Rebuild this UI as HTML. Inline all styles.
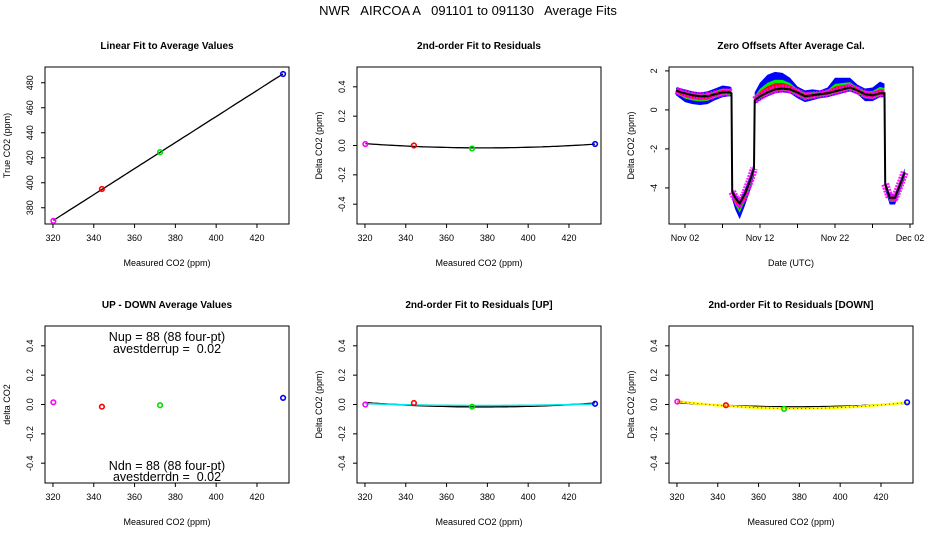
<!DOCTYPE html>
<html><head><meta charset="utf-8">
<style>
html,body{margin:0;padding:0;background:#fff;}
svg{display:block;font-family:"Liberation Sans",sans-serif;}
</style></head>
<body>
<svg id="chart" width="936" height="540" viewBox="0 0 936 540" xmlns="http://www.w3.org/2000/svg">
<rect width="936" height="540" fill="#fff"/>
<text x="468" y="15" font-size="13" text-anchor="middle" style="white-space:pre" xml:space="preserve">NWR   AIRCOA A   091101 to 091130   Average Fits</text>
</svg>
<script>
// ---- data ----
const cylX = [320.2, 344.0, 372.5, 432.8];
const cylColors = ['#ff00ff', '#ff0000', '#00dd00', '#0000ff'];
const trueVals = [369.5, 395.0, 424.5, 487.0];
const residVals = [0.01, 0.00, -0.02, 0.01];
const updownVals = [0.015, -0.015, -0.005, 0.045];
const upVals = [0.00, 0.01, -0.015, 0.005];
const downVals = [0.02, -0.005, -0.03, 0.015];
const co2Ticks = [320, 340, 360, 380, 400, 420];
const trueTicks = [380, 400, 420, 440, 460, 480];
const residTicks = [-0.4, -0.2, 0.0, 0.2, 0.4];
const zeroTicks = [-4, -2, 0, 2];
const dateTicks = [2, 7, 12, 17, 22, 27, 32];
const dateLabels = ['Nov 02', '', 'Nov 12', '', 'Nov 22', '', 'Dec 02'];
const zeroDays = [0.8,1.5,2,3,4,5,6,7,8,8.2,8.3,8.7,9.3,10,10.7,11.2,11.3,12,13,14,15,16,17,18,19,20,21,22,23,24,25,26,27,28,28.6,28.7,29.3,30,30.6,31.3];
const zeroVals = [1.0,0.9,0.85,0.75,0.7,0.7,0.8,0.9,0.9,0.85,-4.2,-4.5,-4.8,-4.3,-3.6,-3.0,0.5,0.7,0.9,1.05,1.1,1.05,0.9,0.7,0.75,0.8,0.85,0.95,1.05,1.15,1.0,0.8,0.75,0.85,0.85,-3.8,-4.5,-4.5,-3.9,-3.2];
const blueHi = [0.15,0.2,0.2,0.2,0.2,0.25,0.3,0.35,0.3,0.3,0.2,0.2,0.2,0.25,0.25,0.3,0.4,0.7,0.9,0.9,0.8,0.6,0.3,0.3,0.3,0.2,0.3,0.7,0.6,0.5,0.3,0.3,0.4,0.6,0.5,0.2,0.2,0.2,0.2,0.2];
const blueLo = [0.25,0.35,0.45,0.45,0.45,0.4,0.3,0.25,0.2,0.2,0.4,0.6,0.8,0.6,0.5,0.4,0.2,0.2,0.2,0.2,0.2,0.2,0.3,0.3,0.25,0.2,0.2,0.2,0.2,0.2,0.2,0.35,0.3,0.2,0.2,0.3,0.35,0.35,0.35,0.3];

const svg = document.getElementById('chart');
const NS = 'http://www.w3.org/2000/svg';
function el(tag, attrs, parent){const e=document.createElementNS(NS,tag);for(const k in attrs)e.setAttribute(k,attrs[k]);(parent||svg).appendChild(e);return e;}

function panel(name, col, row, title, xlab, ylab, xmin, xmax, ymin, ymax){
  const L = 45 + col*312, T = row===0 ? 67 : 326, W = 244, H = 157;
  const g = el('g', {});
  
  
  const sx = v => L + (v - xmin) / (xmax - xmin) * W;
  const sy = v => T + H - (v - ymin) / (ymax - ymin) * H;
  const box = el('rect', {x:L, y:T, width:W, height:H, fill:'none', stroke:'#000', 'stroke-width':1}, g);
  
  
  const t = el('text', {x:L+W/2, y:T-18, 'font-size':10, 'font-weight':'bold', 'text-anchor':'middle'}, g);
  t.textContent = title;
  
  
  const xt = el('text', {x:L+W/2, y:T+H+42, 'font-size':9, 'text-anchor':'middle'}, g);
  xt.textContent = xlab;
  
  
  const yt = el('text', {x:0, y:0, 'font-size':9, 'text-anchor':'middle', transform:`translate(${L-35},${T+H/2}) rotate(-90)`}, g);
  yt.textContent = ylab;
  
  
  return {g, sx, sy, L, T, W, H};
}
function xAxis(p, ticks, labels){
  const a = el('g', {}, p.g);
  
  
  const y0 = p.T + p.H;
  ticks.forEach((v,i)=>{
    el('line', {x1:p.sx(v), x2:p.sx(v), y1:y0, y2:y0+4, stroke:'#000'}, a);
    if (labels[i] !== '') {
      const tx = el('text', {x:p.sx(v), y:y0+17, 'font-size':9, 'text-anchor':'middle'}, a);
      tx.textContent = labels[i];
      
      
    }
  });
}
function yAxis(p, ticks, labels){
  const a = el('g', {}, p.g);
  
  
  ticks.forEach((v,i)=>{
    el('line', {x1:p.L-4, x2:p.L, y1:p.sy(v), y2:p.sy(v), stroke:'#000'}, a);
    const tx = el('text', {x:0, y:0, 'font-size':9, 'text-anchor':'middle', transform:`translate(${p.L-12},${p.sy(v)}) rotate(-90)`}, a);
    tx.textContent = labels[i];
    
    
  });
}
function points(p, xs, ys){
  xs.forEach((x,i)=>{
    const c = el('circle', {cx:p.sx(x), cy:p.sy(ys[i]), r:2.3, fill:'none', stroke:cylColors[i], 'stroke-width':1.6}, p.g);
    
    
  });
}
function quadFit(xs, ys){
  const m = xs.reduce((a,b)=>a+b,0)/xs.length;
  const X = xs.map(x=>x-m);
  let S=[0,0,0,0,0], T=[0,0,0];
  X.forEach((x,i)=>{for(let k=0;k<5;k++)S[k]+=Math.pow(x,k);for(let k=0;k<3;k++)T[k]+=ys[i]*Math.pow(x,k);});
  const A=[[S[0],S[1],S[2]],[S[1],S[2],S[3]],[S[2],S[3],S[4]]];
  const det=M=>M[0][0]*(M[1][1]*M[2][2]-M[1][2]*M[2][1])-M[0][1]*(M[1][0]*M[2][2]-M[1][2]*M[2][0])+M[0][2]*(M[1][0]*M[2][1]-M[1][1]*M[2][0]);
  const D=det(A), c=[];
  for(let j=0;j<3;j++){const B=A.map((r,i)=>r.map((v,k)=>k===j?T[i]:v));c.push(det(B)/D);}
  return x=>c[0]+c[1]*(x-m)+c[2]*(x-m)*(x-m);
}
function curve(p, f, x0, x1, attrs, name){
  let d='';
  for(let i=0;i<=60;i++){const x=x0+(x1-x0)*i/60;d+=(i?'L':'M')+p.sx(x).toFixed(1)+','+p.sy(f(x)).toFixed(1);}
  const e = el('path', Object.assign({d, fill:'none'}, attrs), p.g);
  
  
}
const XMIN=316.1, XMAX=435.7, RMIN=-0.535, RMAX=0.535;
const co2Labels = co2Ticks.map(String);
const residLabels = residTicks.map(v=>v.toFixed(1));

// Panel 1
let p1 = panel('linear-fit-panel',0,0,'Linear Fit to Average Values','Measured CO2 (ppm)','True CO2 (ppm)',XMIN,XMAX,367,492.6);
xAxis(p1, co2Ticks, co2Labels); yAxis(p1, trueTicks, trueTicks.map(String));
(function(){const n=cylX.length;const mx=cylX.reduce((a,b)=>a+b)/n,my=trueVals.reduce((a,b)=>a+b)/n;let sxy=0,sxx=0;cylX.forEach((x,i)=>{sxy+=(x-mx)*(trueVals[i]-my);sxx+=(x-mx)*(x-mx);});const b=sxy/sxx;curve(p1,x=>my+b*(x-mx),cylX[0],cylX[n-1],{stroke:'#000','stroke-width':1.3},'linear-fit-line');})();
points(p1, cylX, trueVals);

// Panel 2
let p2 = panel('residual-fit-panel',1,0,'2nd-order Fit to Residuals','Measured CO2 (ppm)','Delta CO2 (ppm)',XMIN,XMAX,RMIN,RMAX);
xAxis(p2, co2Ticks, co2Labels); yAxis(p2, residTicks, residLabels);
curve(p2, quadFit(cylX, residVals), cylX[0], cylX[3], {stroke:'#000','stroke-width':1.3}, 'residual-fit-curve');
points(p2, cylX, residVals);

// Panel 3
let p3 = panel('zero-offsets-panel',2,0,'Zero Offsets After Average Cal.','Date (UTC)','Delta CO2 (ppm)',-0.13,32.4,-5.85,2.2);
xAxis(p3, dateTicks, dateLabels);
yAxis(p3, zeroTicks, zeroTicks.map(String));
// continuous segments (split where day gaps produce a jump > 2 ppm)
const segs = [];
(function(){let cur=[0];for(let i=1;i<zeroDays.length;i++){if(Math.abs(zeroVals[i]-zeroVals[i-1])>2){segs.push(cur);cur=[];}cur.push(i);}segs.push(cur);})();
function band(lo, hi, color, name){
  segs.forEach(s=>{
    let d='';
    s.forEach((i,j)=>{d+=(j?'L':'M')+p3.sx(zeroDays[i]).toFixed(1)+','+p3.sy(zeroVals[i]+hi[i]).toFixed(1);});
    for(let j=s.length-1;j>=0;j--){const i=s[j];d+='L'+p3.sx(zeroDays[i]).toFixed(1)+','+p3.sy(zeroVals[i]-lo[i]).toFixed(1);}
    const e = el('path', {d:d+'Z', fill:color}, p3.g);
    
    
  });
}
band(blueLo, blueHi, '#0000ff', 'blue-band');
band(blueLo.map(v=>v*0.6), blueHi.map(v=>v*0.55), '#00ee00', 'green-band');
band(blueLo.map(v=>v*0.4), blueHi.map(v=>v*0.35), '#ff0000', 'red-band');
segs.forEach(s=>{
  let d='';s.forEach((i,j)=>{d+=(j?'L':'M')+p3.sx(zeroDays[i]).toFixed(1)+','+p3.sy(zeroVals[i]).toFixed(1);});
  const m = el('path', {d, fill:'none', stroke:'#ff00ff', 'stroke-width':8, 'stroke-dasharray':'2 1', 'stroke-linejoin':'round', opacity:0.9}, p3.g);
  
  
});
(function(){
  let d='';zeroDays.forEach((x,i)=>{d+=(i?'L':'M')+p3.sx(x).toFixed(1)+','+p3.sy(zeroVals[i]).toFixed(1);});
  const k = el('path', {d, fill:'none', stroke:'#000', 'stroke-width':2}, p3.g);
  
  
})();

// Panel 4
let p4 = panel('up-down-panel',0,1,'UP - DOWN Average Values','Measured CO2 (ppm)','delta CO2',XMIN,XMAX,RMIN,RMAX);
xAxis(p4, co2Ticks, co2Labels); yAxis(p4, residTicks, residLabels);
points(p4, cylX, updownVals);
[['Nup = 88 (88 four-pt)',341],['avestderrup =  0.02',353],['Ndn = 88 (88 four-pt)',470],['avestderrdn =  0.02',481]].forEach(([s,y])=>{
  const t = el('text', {x:p4.L+p4.W/2, y, 'font-size':12.5, 'text-anchor':'middle', style:'white-space:pre'}, p4.g);
  t.textContent = s;
  
  
});

// Panel 5
let p5 = panel('residual-up-panel',1,1,'2nd-order Fit to Residuals [UP]','Measured CO2 (ppm)','Delta CO2 (ppm)',XMIN,XMAX,RMIN,RMAX);
xAxis(p5, co2Ticks, co2Labels); yAxis(p5, residTicks, residLabels);
curve(p5, quadFit(cylX, residVals), cylX[0], cylX[3], {stroke:'#000','stroke-width':1.5}, 'overall-fit-curve');
curve(p5, quadFit(cylX, upVals), cylX[0], cylX[3], {stroke:'#00e5e5','stroke-width':1.5}, 'up-fit-curve');
points(p5, cylX, upVals);

// Panel 6
let p6 = panel('residual-down-panel',2,1,'2nd-order Fit to Residuals [DOWN]','Measured CO2 (ppm)','Delta CO2 (ppm)',XMIN,XMAX,RMIN,RMAX);
xAxis(p6, co2Ticks, co2Labels); yAxis(p6, residTicks, residLabels);
curve(p6, quadFit(cylX, residVals), cylX[0], cylX[3], {stroke:'#000','stroke-width':1.5}, 'overall-fit-curve');
curve(p6, quadFit(cylX, downVals), cylX[0], cylX[3], {stroke:'#ffff00','stroke-width':2.5}, 'down-fit-curve');
curve(p6, quadFit(cylX, downVals), cylX[0], cylX[3], {stroke:'#ff0000','stroke-width':1,'stroke-dasharray':'1 3'}, 'down-fit-dots');
points(p6, cylX, downVals);
</script>
</body></html>
